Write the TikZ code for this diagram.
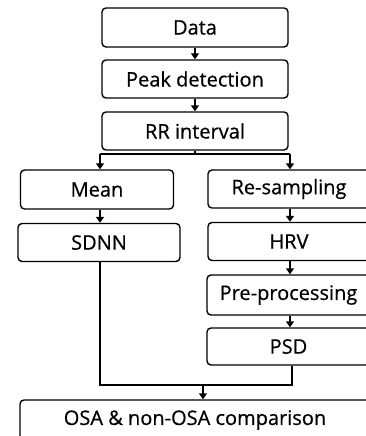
\documentclass[tikz,border=0pt]{standalone}
\usepackage{fontspec}
\setmainfont{Open Sans}[FakeBold=0.6]
\usetikzlibrary{arrows.meta}
\tikzset{
  box/.style={draw, line width=1.4pt, rounded corners=4pt, inner sep=0pt, font=\fontsize{20}{22}\selectfont},
  link/.style={line width=1.7pt, -{Triangle[length=6pt,width=8pt]}},
  plain/.style={line width=1.7pt}
}
\begin{document}
\begin{tikzpicture}[x=1pt,y=-1pt]
\useasboundingbox (0,0) rectangle (366,436);
\clip (0,0) rectangle (366,436);
% nodes: center, width, height
\node[box, minimum width=186pt, minimum height=39pt] (data) at (195,27.5) {Data};
\node[box, minimum width=186pt, minimum height=38pt] (peak) at (195,79) {Peak detection};
\node[box, minimum width=186pt, minimum height=38pt] (rr) at (195,131) {RR interval};
\node[box, minimum width=153pt, minimum height=39pt] (mean) at (97,189.5) {Mean};
\node[box, minimum width=162pt, minimum height=38pt] (resamp) at (289,189) {Re-sampling};
\node[box, minimum width=162pt, minimum height=38pt] (sdnn) at (99,242.5) {SDNN};
\node[box, minimum width=162pt, minimum height=38pt] (hrv) at (289,241.5) {HRV};
\node[box, minimum width=163pt, minimum height=40pt] (pre) at (288.5,295) {Pre-processing};
\node[box, minimum width=163pt, minimum height=37pt] (psd) at (288.5,346.5) {PSD};
\node[box, minimum width=350pt, minimum height=40pt] (osa) at (195,420) {OSA \& non-OSA comparison};
% coordinates
\coordinate (split) at (195,154);
\coordinate (splitL) at (100,154);
\coordinate (splitR) at (290,154);
\coordinate (mergeL) at (100,385);
\coordinate (mergeR) at (292,385);
\coordinate (mergeM) at (203,385);
% connectors
\draw[link] (data.south) -- (peak.north);
\draw[link] (peak.south) -- (rr.north);
\draw[plain] (rr.south) -- (split);
\draw[plain] (splitL) -- (splitR);
\draw[link] (splitL) -- (splitL |- mean.north);
\draw[link] (splitR) -- (splitR |- resamp.north);
\draw[link] (mean.south -| splitL) -- (sdnn.north -| splitL);
\draw[link] (resamp.south -| splitR) -- (hrv.north -| splitR);
\draw[link] (hrv.south -| splitR) -- (pre.north -| splitR);
\draw[link] (pre.south -| splitR) -- (psd.north -| splitR);
\draw[plain] (sdnn.south -| mergeL) -- (mergeL) -- (mergeR) -- (psd.south -| mergeR);
\draw[link] (mergeM) -- (osa.north -| mergeM);
\end{tikzpicture}
\end{document}
